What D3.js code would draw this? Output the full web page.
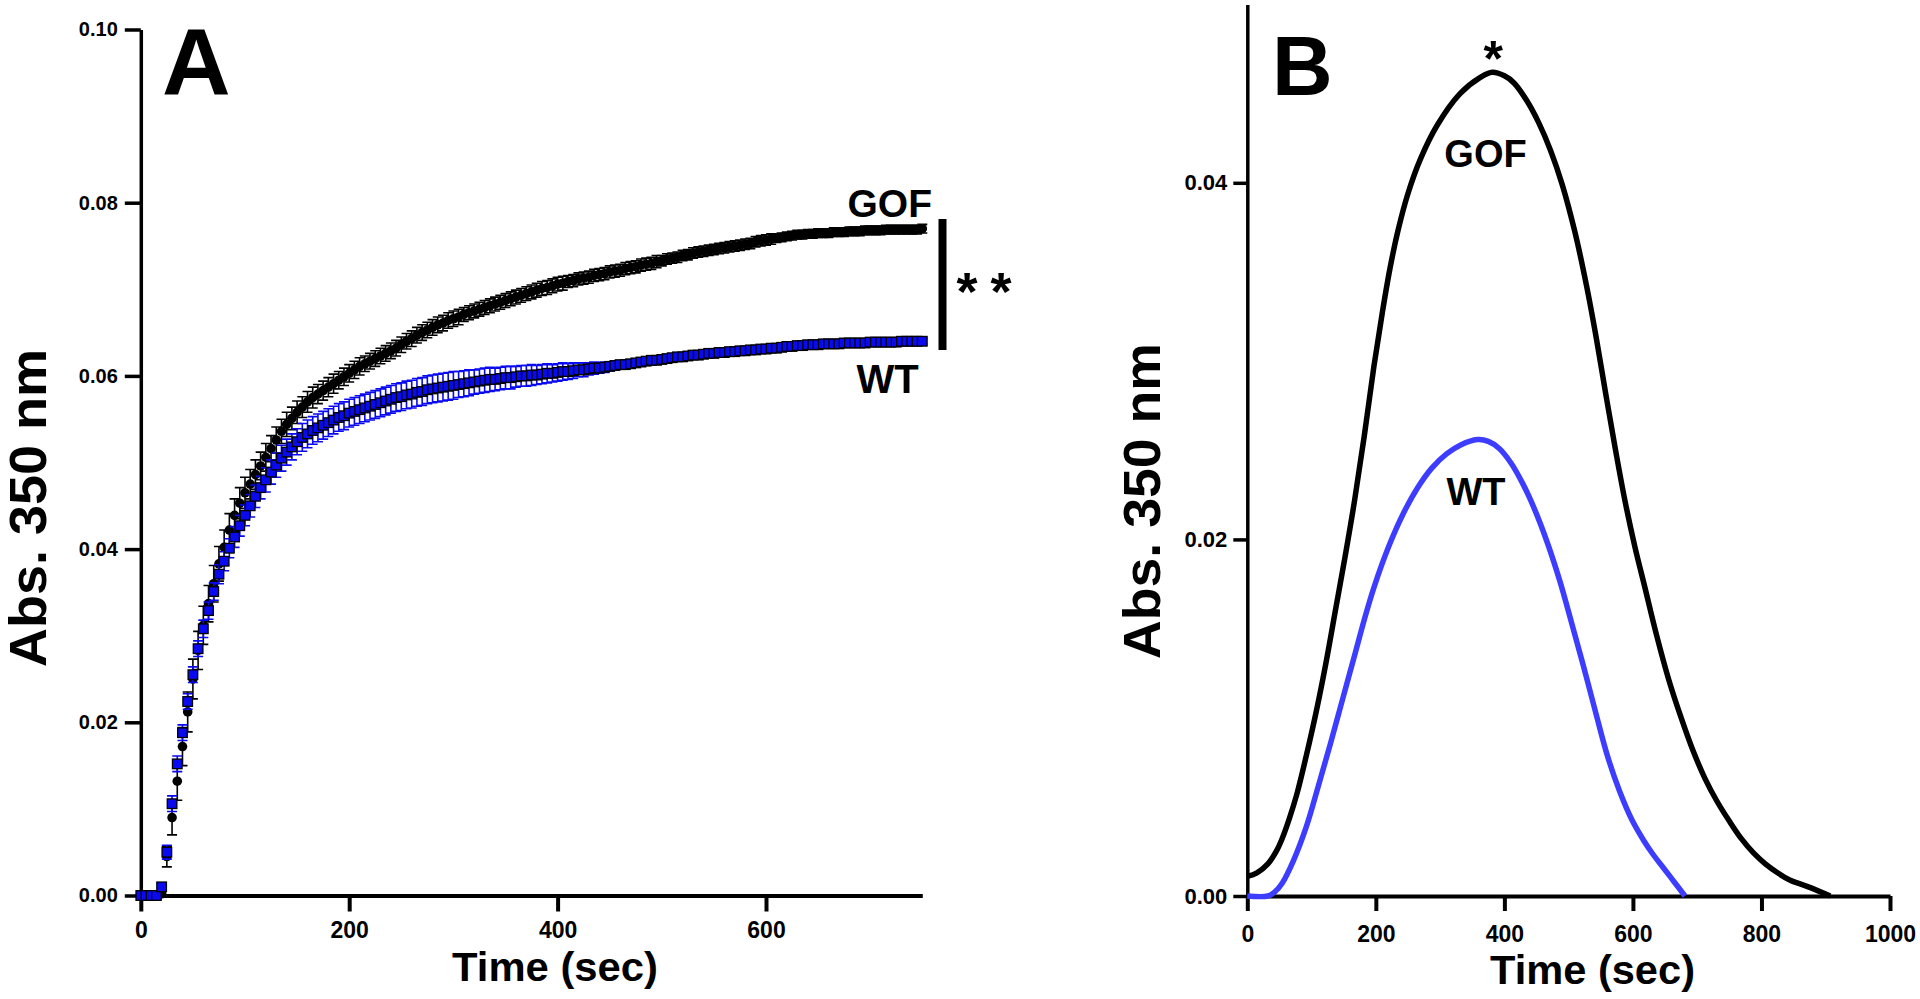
<!DOCTYPE html>
<html>
<head>
<meta charset="utf-8">
<script src="https://cdn.jsdelivr.net/npm/d3@7/dist/d3.min.js"></script>
<style>
  html, body { margin: 0; padding: 0; background: #ffffff; }
  svg { display: block; }
</style>
</head>
<body>
<svg id="chart" width="1920" height="999"></svg>
<script>
// ---------------- Panel A data (turbidity time course, mean ± SD) ----------------
const timeA = [
  0,5,10,15,20,25,30,35,40,45,
  50,55,60,65,70,75,80,85,90,95,
  100,105,110,115,120,125,130,135,140,145,
  150,155,160,165,170,175,180,185,190,195,
  200,205,210,215,220,225,230,235,240,245,
  250,255,260,265,270,275,280,285,290,295,
  300,305,310,315,320,325,330,335,340,345,
  350,355,360,365,370,375,380,385,390,395,
  400,405,410,415,420,425,430,435,440,445,
  450,455,460,465,470,475,480,485,490,495,
  500,505,510,515,520,525,530,535,540,545,
  550,555,560,565,570,575,580,585,590,595,
  600,605,610,615,620,625,630,635,640,645,
  650,655,660,665,670,675,680,685,690,695,
  700,705,710,715,720,725,730,735,740,745,
  750
];
const gofA = [
  0,0,0,0,0.0002,0.0045,0.0090,0.0132,0.0172,0.0212,
  0.0250,0.0283,0.0312,0.0337,0.0360,0.0383,0.0402,0.0422,0.0439,0.0453,
  0.0465,0.0475,0.0486,0.0496,0.0506,0.0516,0.0526,0.0536,0.0544,0.0551,
  0.0558,0.0564,0.0570,0.0575,0.0579,0.0583,0.0587,0.0591,0.0595,0.0599,
  0.0603,0.0607,0.0611,0.0614,0.0617,0.0620,0.0623,0.0626,0.0629,0.0632,
  0.0636,0.0640,0.0643,0.0647,0.0650,0.0653,0.0656,0.0659,0.0661,0.0664,
  0.0666,0.0668,0.0671,0.0673,0.0675,0.0677,0.0679,0.0681,0.0683,0.0685,
  0.0687,0.0689,0.0691,0.0693,0.0695,0.0697,0.0699,0.0701,0.0702,0.0704,
  0.0706,0.0707,0.0709,0.0710,0.0712,0.0713,0.0714,0.0716,0.0717,0.0718,
  0.0720,0.0721,0.0722,0.0724,0.0725,0.0726,0.0728,0.0729,0.0730,0.0732,
  0.0733,0.0735,0.0736,0.0737,0.0739,0.0740,0.0742,0.0743,0.0744,0.0745,
  0.0746,0.0747,0.0748,0.0749,0.0750,0.0751,0.0752,0.0753,0.0755,0.0756,
  0.0757,0.0758,0.0759,0.0760,0.0761,0.0762,0.0763,0.0763,0.0764,0.0764,
  0.0765,0.0765,0.0765,0.0766,0.0766,0.0766,0.0767,0.0767,0.0767,0.0768,
  0.0768,0.0768,0.0768,0.0769,0.0769,0.0769,0.0769,0.0769,0.0769,0.0769,
  0.0770
];
const gofErrA = [
  0.0001,0.0001,0.0001,0.0001,0.0003,0.0012,0.0020,0.0022,0.0022,0.0023,
  0.0023,0.0022,0.0022,0.0021,0.0021,0.0020,0.0020,0.0019,0.0019,0.0018,
  0.0018,0.0017,0.0017,0.0016,0.0016,0.0015,0.0015,0.0014,0.0014,0.0013,
  0.0013,0.0012,0.0012,0.0012,0.0011,0.0011,0.0011,0.0011,0.0010,0.0010,
  0.0010,0.0010,0.0010,0.0009,0.0009,0.0009,0.0009,0.0009,0.0009,0.0009,
  0.0009,0.0009,0.0009,0.0009,0.0009,0.0009,0.0009,0.0009,0.0009,0.0009,
  0.0009,0.0009,0.0008,0.0008,0.0008,0.0008,0.0008,0.0008,0.0008,0.0008,
  0.0008,0.0008,0.0008,0.0008,0.0008,0.0008,0.0008,0.0008,0.0008,0.0008,
  0.0008,0.0008,0.0007,0.0007,0.0007,0.0007,0.0007,0.0007,0.0007,0.0007,
  0.0007,0.0007,0.0007,0.0007,0.0007,0.0007,0.0007,0.0007,0.0007,0.0007,
  0.0006,0.0006,0.0006,0.0006,0.0006,0.0006,0.0006,0.0006,0.0006,0.0006,
  0.0006,0.0006,0.0006,0.0006,0.0006,0.0006,0.0006,0.0006,0.0006,0.0006,
  0.0006,0.0006,0.0005,0.0005,0.0005,0.0005,0.0005,0.0005,0.0005,0.0005,
  0.0005,0.0005,0.0005,0.0005,0.0005,0.0005,0.0005,0.0005,0.0005,0.0005,
  0.0005,0.0005,0.0005,0.0005,0.0005,0.0005,0.0005,0.0005,0.0005,0.0005,
  0.0005
];
const wtA = [
  0,0,0,0,0.0010,0.0050,0.0106,0.0152,0.0188,0.0224,
  0.0255,0.0285,0.0308,0.0329,0.0351,0.0371,0.0386,0.0401,0.0414,0.0427,
  0.0439,0.0450,0.0461,0.0471,0.0480,0.0489,0.0497,0.0505,0.0512,0.0518,
  0.0524,0.0529,0.0533,0.0537,0.0540,0.0543,0.0546,0.0549,0.0552,0.0554,
  0.0557,0.0559,0.0561,0.0563,0.0565,0.0567,0.0569,0.0571,0.0573,0.0575,
  0.0576,0.0578,0.0579,0.0581,0.0582,0.0584,0.0585,0.0586,0.0587,0.0588,
  0.0589,0.0590,0.0591,0.0592,0.0593,0.0594,0.0595,0.0596,0.0596,0.0597,
  0.0598,0.0598,0.0599,0.0600,0.0600,0.0601,0.0601,0.0602,0.0603,0.0603,
  0.0604,0.0605,0.0605,0.0606,0.0607,0.0607,0.0608,0.0609,0.0609,0.0610,
  0.0611,0.0612,0.0613,0.0613,0.0614,0.0615,0.0616,0.0617,0.0618,0.0618,
  0.0619,0.0620,0.0621,0.0622,0.0622,0.0623,0.0624,0.0624,0.0625,0.0626,
  0.0626,0.0627,0.0627,0.0628,0.0628,0.0629,0.0629,0.0630,0.0630,0.0631,
  0.0631,0.0632,0.0632,0.0633,0.0634,0.0634,0.0635,0.0635,0.0636,0.0636,
  0.0636,0.0637,0.0637,0.0637,0.0637,0.0638,0.0638,0.0638,0.0638,0.0638,
  0.0639,0.0639,0.0639,0.0639,0.0639,0.0639,0.0640,0.0640,0.0640,0.0640,
  0.0640
];
const wtErrA = [
  0.0001,0.0001,0.0001,0.0001,0.0004,0.0008,0.0009,0.0009,0.0009,0.0009,
  0.0009,0.0009,0.0010,0.0010,0.0010,0.0011,0.0011,0.0011,0.0012,0.0012,
  0.0012,0.0013,0.0013,0.0013,0.0014,0.0014,0.0014,0.0015,0.0015,0.0015,
  0.0015,0.0016,0.0016,0.0016,0.0016,0.0016,0.0016,0.0016,0.0016,0.0016,
  0.0016,0.0016,0.0016,0.0016,0.0016,0.0016,0.0016,0.0016,0.0016,0.0016,
  0.0016,0.0016,0.0016,0.0016,0.0016,0.0016,0.0016,0.0016,0.0016,0.0016,
  0.0016,0.0015,0.0015,0.0015,0.0014,0.0014,0.0014,0.0014,0.0013,0.0013,
  0.0013,0.0013,0.0012,0.0012,0.0012,0.0012,0.0011,0.0011,0.0011,0.0010,
  0.0010,0.0010,0.0009,0.0009,0.0008,0.0008,0.0007,0.0007,0.0006,0.0006,
  0.0005,0.0005,0.0004,0.0004,0.0004,0.0004,0.0004,0.0004,0.0004,0.0004,
  0.0004,0.0004,0.0003,0.0003,0.0003,0.0003,0.0003,0.0003,0.0003,0.0003,
  0.0003,0.0003,0.0003,0.0003,0.0003,0.0003,0.0003,0.0003,0.0003,0.0003,
  0.0003,0.0003,0.0003,0.0003,0.0003,0.0003,0.0003,0.0003,0.0003,0.0003,
  0.0003,0.0003,0.0003,0.0003,0.0003,0.0003,0.0003,0.0003,0.0003,0.0003,
  0.0003,0.0003,0.0003,0.0003,0.0003,0.0003,0.0003,0.0003,0.0003,0.0003,
  0.0003
];
const ticksAx = [0, 200, 400, 600];
const ticksAy = [0, 0.02, 0.04, 0.06, 0.08, 0.10];

// ---------------- Panel B data (derivative curves) ----------------
const gofBTime = [0,15,32,45,54,65,77,92,107,122,137,152,167,182,197,210,222,235,250,269,295,331,362,381,400,415,435,453,472,490,510,528,543,558,573,588,603,618,637,656,675,693,712,731,750,769,788,806,825,844,874,907];
const gofB     = [0.0011,0.0013,0.0018,0.0025,0.0032,0.0043,0.0057,0.0079,0.0103,0.0130,0.0160,0.0190,0.0222,0.0258,0.0297,0.0327,0.0352,0.0374,0.0394,0.0413,0.0432,0.0450,0.0459,0.0462,0.0460,0.0456,0.0446,0.0434,0.0418,0.0399,0.0372,0.0342,0.0313,0.0281,0.0250,0.0221,0.0196,0.0174,0.0146,0.0121,0.0100,0.0082,0.0066,0.0053,0.0042,0.0032,0.0024,0.0018,0.0013,0.0009,0.0005,0.0000];
const wtBTime  = [0,32,42,54,72,92,110,129,148,167,182,197,220,242,265,287,310,332,358,375,392,410,429,448,467,486,504,523,542,560,579,598,617,632,647,664,681];
const wtB      = [0,0,0.0002,0.0007,0.0020,0.0039,0.0061,0.0085,0.0110,0.0135,0.0155,0.0173,0.0196,0.0214,0.0229,0.0240,0.0248,0.0253,0.0256,0.0255,0.0251,0.0243,0.0231,0.0216,0.0198,0.0177,0.0154,0.0129,0.0103,0.0079,0.0059,0.0043,0.0031,0.0023,0.0016,0.0008,0.0000];
const ticksBx = [0, 200, 400, 600, 800, 1000];
const ticksBy = [0, 0.02, 0.04];

// ---------------- drawing ----------------
const FONT = "'Liberation Sans', Arial, Helvetica, sans-serif";
const BLUE_A = "#0a0af0";
const BLUE_B = "#3d3dff";
const svg = d3.select("#chart");

// ---- Panel A scales ----
const xA = d3.scaleLinear().domain([0, 750]).range([140.8, 922.3]);
const yA = d3.scaleLinear().domain([0, 0.10]).range([895.5, 29.5]);

// ---- Panel B scales ----
const xB = d3.scaleLinear().domain([0, 1000]).range([1247.3, 1890]);
const yB = d3.scaleLinear().domain([0, 0.05]).range([896, 4.5]);

function styleAxis(g, fs, sw) {
  g.selectAll("text").attr("font-family", FONT).attr("font-size", fs)
    .attr("font-weight", "bold").attr("fill", "#000");
  g.selectAll("line").attr("stroke", "#000").attr("stroke-width", sw);
  g.select(".domain").attr("stroke", "#000").attr("stroke-width", sw);
}

// Panel A axes
const gAy = svg.append("g").attr("transform", `translate(${xA(0)},0)`)
  .call(d3.axisLeft(yA).tickValues(ticksAy).tickFormat(d3.format(".2f")).tickSize(16).tickSizeOuter(0).tickPadding(7));
styleAxis(gAy, 20, 3.5);

const gAx = svg.append("g").attr("transform", `translate(0,${yA(0)})`)
  .call(d3.axisBottom(xA).tickValues(ticksAx).tickFormat(d3.format("d")).tickSize(16).tickSizeOuter(0));
styleAxis(gAx, 23, 4);
gAx.selectAll("text").attr("y", 42.5).attr("dy", 0);

// Panel B axes
const gBy = svg.append("g").attr("transform", `translate(${xB(0)},0)`)
  .call(d3.axisLeft(yB).tickValues(ticksBy).tickFormat(d3.format(".2f")).tickSize(14).tickSizeOuter(0).tickPadding(6));
styleAxis(gBy, 22, 3.5);

const gBx = svg.append("g").attr("transform", `translate(0,${yB(0)})`)
  .call(d3.axisBottom(xB).tickValues(ticksBx).tickFormat(d3.format("d")).tickSize(15).tickSizeOuter(0));
styleAxis(gBx, 23, 4);
gBx.selectAll("text").attr("y", 45.5).attr("dy", 0);

// ---- Panel A marks ----
const ptsGof = timeA.map((t, i) => ({ t, v: gofA[i], e: gofErrA[i] }));
const ptsWt  = timeA.map((t, i) => ({ t, v: wtA[i], e: wtErrA[i] }));

function errorBars(data, color, cap) {
  const g = svg.append("g").attr("stroke", color).attr("stroke-width", 1.6).attr("fill", "none");
  g.selectAll("path").data(data).join("path")
    .attr("d", d => {
      const x = xA(d.t), y1 = yA(d.v + d.e), y2 = yA(d.v - d.e);
      return `M${x},${y1}V${y2}M${x - cap},${y1}H${x + cap}M${x - cap},${y2}H${x + cap}`;
    });
}

errorBars(ptsGof, "#000", 5);
svg.append("g").selectAll("circle").data(ptsGof).join("circle")
  .attr("cx", d => xA(d.t)).attr("cy", d => yA(d.v)).attr("r", 4.8).attr("fill", "#000");

errorBars(ptsWt, BLUE_A, 5);
svg.append("g").selectAll("rect").data(ptsWt).join("rect")
  .attr("x", d => xA(d.t) - 4.8).attr("y", d => yA(d.v) - 4.8)
  .attr("width", 9.6).attr("height", 9.6)
  .attr("fill", BLUE_A).attr("stroke", "#000").attr("stroke-width", 1.3);

// ---- Panel B lines ----
const lineB = d3.line().x(d => xB(d[0])).y(d => yB(Math.max(0, d[1]))).curve(d3.curveCatmullRom.alpha(0.5));
svg.append("path").datum(gofBTime.map((t, i) => [t, gofB[i]]))
  .attr("d", lineB).attr("fill", "none").attr("stroke", "#000").attr("stroke-width", 5.5)
  .attr("stroke-linejoin", "round");
svg.append("path").datum(wtBTime.map((t, i) => [t, wtB[i]]))
  .attr("d", lineB).attr("fill", "none").attr("stroke", BLUE_B).attr("stroke-width", 5.5)
  .attr("stroke-linejoin", "round");

// ---- Text ----
function txt(x, y, s, size, opts = {}) {
  const t = svg.append("text").attr("x", x).attr("y", y).text(s)
    .attr("font-family", FONT).attr("font-size", size)
    .attr("font-weight", opts.weight || "bold")
    .attr("text-anchor", opts.anchor || "start").attr("fill", opts.fill || "#000");
  if (opts.len) t.attr("textLength", opts.len).attr("lengthAdjust", "spacingAndGlyphs");
  if (opts.transform) t.attr("transform", opts.transform);
  return t;
}

// Panel letters
txt(162, 95, "A", 95);
txt(1272, 95, "B", 84);

// Panel A annotations
txt(932, 216.5, "GOF", 39, { anchor: "end" });
txt(887.5, 393, "WT", 40, { anchor: "middle" });
svg.append("line").attr("x1", 942.5).attr("x2", 942.5).attr("y1", 219).attr("y2", 350)
  .attr("stroke", "#000").attr("stroke-width", 8);
txt(967, 310, "*", 54, { anchor: "middle" });
txt(1001, 310, "*", 54, { anchor: "middle" });

// Panel B annotations
txt(1493.3, 76, "*", 50, { anchor: "middle" });
txt(1485.5, 166.5, "GOF", 38, { anchor: "middle" });
txt(1476, 505, "WT", 38, { anchor: "middle" });

// Axis titles
txt(555, 980.5, "Time (sec)", 40, { anchor: "middle", len: 206 });
txt(1592.5, 984, "Time (sec)", 40, { anchor: "middle", len: 205 });
txt(0, 0, "Abs. 350 nm", 52, { anchor: "middle", len: 318, transform: "translate(46,508) rotate(-90)" });
txt(0, 0, "Abs. 350 nm", 52, { anchor: "middle", len: 316, transform: "translate(1160,501) rotate(-90)" });
</script>
</body>
</html>
